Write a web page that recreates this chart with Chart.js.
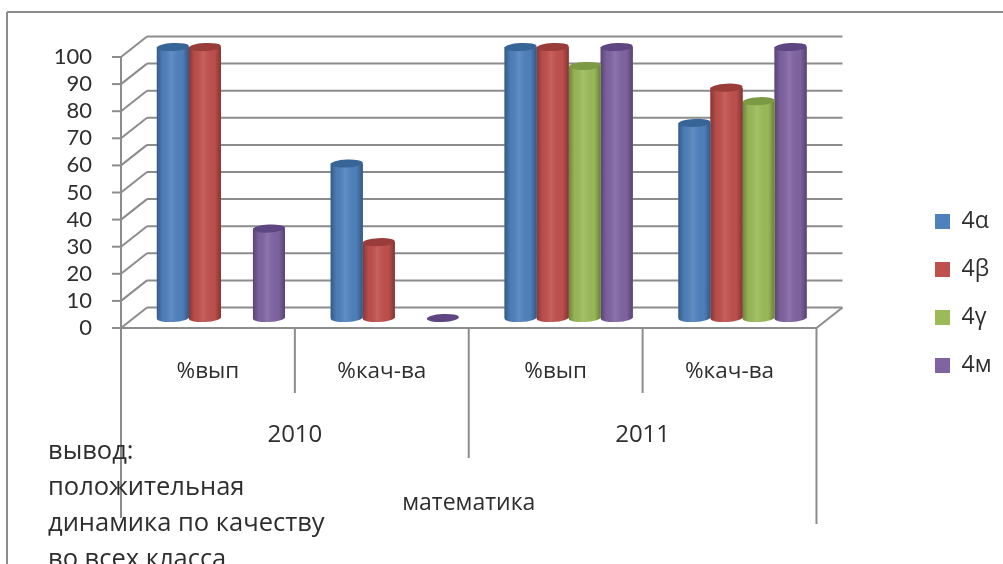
<!DOCTYPE html>
<html>
<head>
<meta charset="utf-8">
<script src="https://cdn.jsdelivr.net/npm/chart.js@4"></script>
<style>
  html, body { margin: 0; padding: 0; background: #fff; overflow: hidden; }
  canvas { display: block; filter: blur(0.6px); }
</style>
</head>
<body>
<canvas id="chart" width="1003" height="564"></canvas>
<script>
var categories = ["%вып", "%кач-ва", "%вып", "%кач-ва"];
var years = ["2010", "2011"];
var axisTitle = "математика";
var noteLines = ["вывод:", "положительная", "динамика по качеству", "во всех класса"];

var names = ["4α", "4β", "4γ", "4м"];
var alpha = [100, 57, 100, 72];
var beta = [100, 28, 100, 85];
var gamma = [null, null, 93, 80];
var em = [33, 0, 100, 100];

var colors = ["#4f81bd", "#c0504d", "#9bbb59", "#8064a2"];
var topColors = ["#376597", "#993c3a", "#7c9a43", "#5e4682"];

var yTicks = 10;
var lineColor = "#8c8c8c";
var textColor = "#2e2e2e";
var wallX = 26, wallY = -20.5; // сдвиг задней стенки
var barX = 13, barY = -10;     // сдвиг цилиндров

function line(c, x1, y1, x2, y2) {
    c.beginPath();
    c.moveTo(x1, y1);
    c.lineTo(x2, y2);
    c.stroke();
}

// стенка, пол, разделители подписей
var wallsPlugin = {
    id: 'walls',
    beforeDatasetsDraw: function(chart) {
        var c = chart.ctx, a = chart.chartArea, y = chart.scales.y;
        var step = (a.right - a.left) / categories.length;
        c.save();
        c.strokeStyle = lineColor;
        c.lineWidth = 2;
        // рамка
        line(c, 7, 12, 1003, 12);
        line(c, 7, 12, 7, 564);
        for (var v = 0; v <= 100; v += yTicks) {
            var py = y.getPixelForValue(v);
            line(c, a.left - 9, py, a.left, py);
            line(c, a.left, py, a.left + wallX, py + wallY);
            line(c, a.left + wallX, py + wallY, a.right + wallX, py + wallY);
        }
        line(c, a.left, a.top, a.left, 518);
        line(c, a.left, a.bottom, a.right, a.bottom);
        line(c, a.right, a.bottom, a.right + wallX, a.bottom + wallY);
        line(c, a.right, a.bottom, a.right, 524);
        line(c, a.left + step, a.bottom, a.left + step, 393);
        line(c, a.left + step * 2, a.bottom, a.left + step * 2, 458);
        line(c, a.left + step * 3, a.bottom, a.left + step * 3, 393);
        c.restore();
    },
    beforeDatasetDraw: function(chart) {
        chart.ctx.save();
        chart.ctx.translate(barX, barY);
    },
    afterDatasetDraw: function(chart, args) {
        var c = chart.ctx, i = args.index;
        var values = chart.data.datasets[i].data;
        args.meta.data.forEach(function(el, n) {
            if (values[n] === null) return;
            var r = el.width / 2;
            // низ и объём цилиндра
            if (el.base - el.y > 0) {
                c.beginPath();
                c.moveTo(el.x - r, el.y);
                c.lineTo(el.x - r, el.base);
                c.ellipse(el.x, el.base, r, 4, -0.05, Math.PI, 0, true);
                c.lineTo(el.x + r, el.y);
                c.closePath();
                c.fillStyle = colors[i];
                c.fill();
                var g = c.createLinearGradient(el.x - r, 0, el.x + r, 0);
                g.addColorStop(0, 'rgba(0,0,0,0.3)');
                g.addColorStop(0.18, 'rgba(0,0,0,0.04)');
                g.addColorStop(0.45, 'rgba(255,255,255,0.1)');
                g.addColorStop(0.8, 'rgba(0,0,0,0.02)');
                g.addColorStop(1, 'rgba(0,0,0,0.32)');
                c.fillStyle = g;
                c.fill();
            }
            c.beginPath();
            c.ellipse(el.x, el.y, r, 4, -0.05, 0, Math.PI * 2);
            c.fillStyle = topColors[i];
            c.fill();
        });
        c.restore();
    },
    afterDraw: function(chart) {
        var c = chart.ctx, a = chart.chartArea;
        var step = (a.right - a.left) / categories.length;
        c.save();
        c.fillStyle = textColor;
        c.textAlign = 'center';
        c.textBaseline = 'middle';
        c.font = '24px "Open Sans"';
        c.fillText(years[0], a.left + step, 435);
        c.fillText(years[1], a.left + step * 3, 435);
        c.textAlign = 'left';
        c.font = '25.5px "Open Sans"';
        noteLines.forEach(function(t, n) {
            c.fillText(t, 48, 452 + n * 36);
        });
        c.restore();
    },
    afterLayout: function(chart) {
        // легенда стоит правее, чем отводит ей раскладка
        var w = chart.legend.right - chart.legend.left;
        chart.legend.left = 910;
        chart.legend.right = 910 + w;
    }
};

function dataset(i, values) {
    return {
        label: names[i],
        data: values,
        backgroundColor: colors[i],
        categoryPercentage: 0.737,
        barPercentage: 1
    };
}

new Chart(document.getElementById('chart'), {
    type: 'bar',
    data: {
        labels: categories,
        datasets: [dataset(0, alpha), dataset(1, beta), dataset(2, gamma), dataset(3, em)]
    },
    plugins: [wallsPlugin],
    options: {
        responsive: false,
        animation: false,
        layout: { padding: { top: 57, bottom: 34, left: 0, right: 95 } },
        plugins: {
            tooltip: { enabled: false },
            legend: {
                position: 'right',
                labels: {
                    boxWidth: 15,
                    boxHeight: 15,
                    padding: 25,
                    color: textColor,
                    font: { family: '"Open Sans"', size: 23 }
                }
            }
        },
        scales: {
            x: {
                grid: { display: false },
                border: { display: false },
                afterFit: function(s) { s.height = 202; },
                ticks: {
                    padding: 22,
                    color: textColor,
                    maxRotation: 0,
                    font: { family: '"Open Sans"', size: 22.5 }
                },
                title: {
                    display: true,
                    text: axisTitle,
                    color: textColor,
                    padding: { top: 0, bottom: 13 },
                    font: { family: '"Open Sans"', size: 23 }
                }
            },
            y: {
                min: 0,
                max: 100,
                grid: { display: false },
                border: { display: false },
                afterFit: function(s) { s.width = 121; },
                ticks: {
                    stepSize: yTicks,
                    autoSkip: false,
                    padding: 21,
                    color: textColor,
                    font: { family: 'Lato', size: 22 }
                }
            }
        }
    }
});
</script>
</body>
</html>
